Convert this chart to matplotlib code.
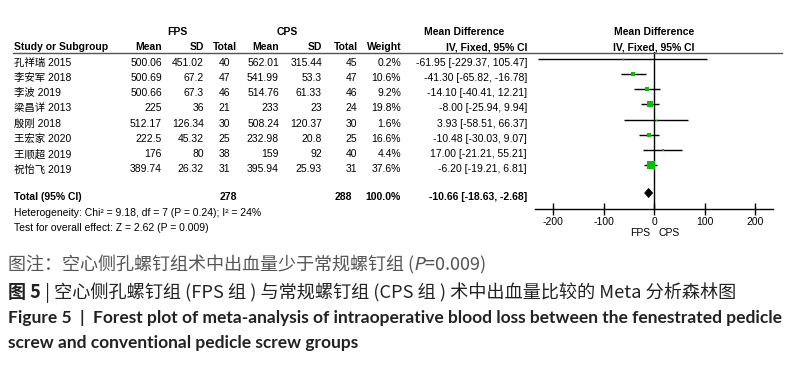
import numpy as np
import matplotlib
matplotlib.use("Agg")
from matplotlib import pyplot as plt
from matplotlib.transforms import blended_transform_factory
from matplotlib.lines import Line2D

# study data
studies = ["孔祥瑞 2015", "李安军 2018", "李波 2019", "梁昌详 2013",
           "殷刚 2018", "王宏家 2020", "王顺超 2019", "祝怡飞 2019"]
fps_mean = ["500.06", "500.69", "500.66", "225", "512.17", "222.5", "176", "389.74"]
fps_sd = ["451.02", "67.2", "67.3", "36", "126.34", "45.32", "80", "26.32"]
fps_n = [40, 47, 46, 21, 30, 25, 38, 31]
cps_mean = ["562.01", "541.99", "514.76", "233", "508.24", "232.98", "159", "395.94"]
cps_sd = ["315.44", "53.3", "61.33", "23", "120.37", "20.8", "92", "25.93"]
cps_n = [45, 47, 46, 24, 30, 25, 40, 31]
weight = [0.2, 10.6, 9.2, 19.8, 1.6, 16.6, 4.4, 37.6]
md = [-61.95, -41.30, -14.10, -8.00, 3.93, -10.48, 17.00, -6.20]
ci_lo = [-229.37, -65.82, -40.41, -25.94, -58.51, -30.03, -21.21, -19.21]
ci_hi = [105.47, -16.78, 12.21, 9.94, 66.37, 9.07, 55.21, 6.81]
total_md, total_lo, total_hi = -10.66, -18.63, -2.68
xticks = [-200, -100, 0, 100, 200]

W, H = 798, 366
TABLE_FONT = ["Liberation Sans", "Noto Sans CJK SC"]
fs = 7.5

fig = plt.figure(figsize=(W / 100, H / 100), dpi=100)

# forest plot axes (row index on y)
ax = fig.add_axes([535 / W, 1 - 209 / H, 238 / W, (209 - 52) / H])
ax.set_xlim((535 - 654) / 0.505, (773 - 654) / 0.505)
ax.set_ylim(9.87, -0.43)
for s in ["top", "right", "left"]:
    ax.spines[s].set_visible(False)
ax.spines["bottom"].set_linewidth(1)
ax.set_yticks([])
ax.set_xticks(xticks)
ax.set_xticklabels([str(t) for t in xticks], fontsize=fs, family=TABLE_FONT)
ax.tick_params(axis="x", direction="inout", length=8, width=1, pad=2)
ax.axvline(0, color="black", lw=1)

rows = np.arange(len(studies))
ax.hlines(rows, ci_lo, ci_hi, color="black", lw=1)
for i in rows:
    ms = max(1.2, 5.2 * np.sqrt(weight[i] / 37.6))
    ax.plot(md[i], i, "s", color="#00c000", ms=ms, mec="#00c000", mew=0)

ty = 8.82
hh = 0.3
ax.fill([total_lo, total_md, total_hi, total_md],
        [ty, ty - hh, ty, ty + hh], color="black", lw=0.5)

ax.text(-8, 11.45, "FPS", ha="right", va="center", fontsize=fs, family=TABLE_FONT,
        clip_on=False)
ax.text(8, 11.45, "CPS", ha="left", va="center", fontsize=fs, family=TABLE_FONT,
        clip_on=False)

# table text: x in figure pixels, y in row units
tr = blended_transform_factory(fig.transFigure, ax.transData)
off = 0.27


def put(x, y, s, ha="right", bold=False, t=tr):
    fig.text(x / W, y, s, transform=t, ha=ha, va="center", fontsize=fs,
             family=TABLE_FONT, fontweight="bold" if bold else "normal")


cols = [162, 204, 230, 279, 322, 357, 401, 527]
for i in rows:
    y = i + off
    put(14, y, studies[i], ha="left")
    vals = [fps_mean[i], fps_sd[i], str(fps_n[i]), cps_mean[i], cps_sd[i],
            str(cps_n[i]), f"{weight[i]:.1f}%",
            f"{md[i]:.2f} [{ci_lo[i]:.2f}, {ci_hi[i]:.2f}]"]
    for x, v in zip(cols, vals):
        put(x, y, v)

y = ty + off
put(14, y, "Total (95% CI)", ha="left", bold=True)
put(237, y, str(sum(fps_n)), bold=True)
put(352, y, str(sum(cps_n)), bold=True)
put(401, y, "100.0%", bold=True)
put(527, y, f"{total_md:.2f} [{total_lo:.2f}, {total_hi:.2f}]", bold=True)

# header and footer text in figure pixels
ft = fig.transFigure


def put_px(x, ypix, s, ha="right", bold=False):
    put(x, 1 - ypix / H, s, ha=ha, bold=bold, t=ft)


put_px(177, 32, "FPS", ha="center", bold=True)
put_px(287, 32, "CPS", ha="center", bold=True)
put_px(464, 32, "Mean Difference", ha="center", bold=True)
put_px(654, 32, "Mean Difference", ha="center", bold=True)
put_px(14, 47, "Study or Subgroup", ha="left", bold=True)
hdr = ["Mean", "SD", "Total", "Mean", "SD", "Total", "Weight", "IV, Fixed, 95% CI"]
hdr_x = [162, 204, 237, 279, 322, 358, 402, 527]
for x, s in zip(hdr_x, hdr):
    put_px(x, 47, s, bold=True)
put_px(654, 47, "IV, Fixed, 95% CI", ha="center", bold=True)
fig.add_artist(Line2D([13 / W, 782 / W], [1 - 53 / H, 1 - 53 / H],
                      color="#555555", lw=1))

put_px(14, 213, "Heterogeneity: Chi² = 9.18, df = 7 (P = 0.24); I² = 24%", ha="left")
put_px(14, 228, "Test for overall effect: Z = 2.62 (P = 0.009)", ha="left")

# caption
CJK = ["Noto Sans CJK SC", "DejaVu Sans"]
cap1 = fig.text(8 / W, 1 - 265 / H, "图注：空心侧孔螺钉组术中出血量少于常规螺钉组 (", ha="left",
                va="center", fontsize=13, family=CJK, color="#555555")
fig.canvas.draw()
bb = cap1.get_window_extent()
fig.text(bb.x1 / W, 1 - 265 / H, "$P$=0.009)", ha="left", va="center",
         fontsize=13, family=CJK, color="#555555")

t5 = fig.text(8 / W, 1 - 293 / H, "图 5", ha="left", va="center", fontsize=13,
              family=CJK, fontweight="bold", color="#222222")
fig.canvas.draw()
bb = t5.get_window_extent()
fig.text(bb.x1 / W, 1 - 293 / H, " | 空心侧孔螺钉组 (FPS 组 ) 与常规螺钉组 (CPS 组 ) 术中出血量比较的 Meta 分析森林图",
         ha="left", va="center", fontsize=13.1, family=CJK, color="#222222")

EN = ["Lato", "DejaVu Sans"]
fig.text(8 / W, 1 - 318 / H,
         "Figure 5  |  Forest plot of meta-analysis of intraoperative blood loss between the fenestrated pedicle",
         ha="left", va="center", fontsize=12.5, family=EN, fontweight="bold", color="#222222")
fig.text(8 / W, 1 - 343 / H, "screw and conventional pedicle screw groups",
         ha="left", va="center", fontsize=12.5, family=EN, fontweight="bold", color="#222222")

fig.savefig("out.png", dpi=100)
